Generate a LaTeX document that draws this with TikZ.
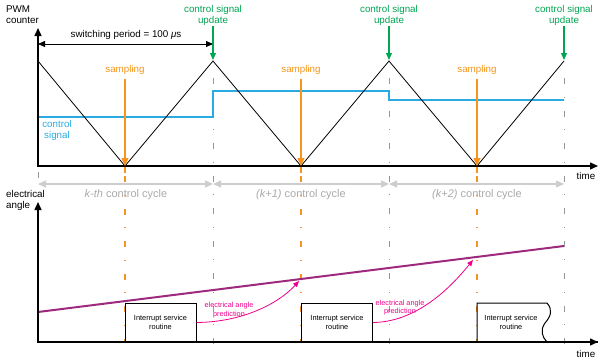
\documentclass[tikz,border=0pt]{standalone}
\usepackage{fontspec}
\setmainfont{Liberation Sans}
\usetikzlibrary{arrows.meta}
\definecolor{pwmblue}{RGB}{41,171,226}
\definecolor{upgreen}{RGB}{0,166,81}
\definecolor{samporange}{RGB}{247,148,29}
\definecolor{anglepurple}{RGB}{158,42,125}
\definecolor{predpink}{RGB}{236,0,140}
\definecolor{cyclegrey}{RGB}{205,205,205}
\definecolor{cycletext}{RGB}{170,170,170}
\definecolor{guidegrey}{RGB}{150,150,150}
\begin{document}
\begin{tikzpicture}[x=1pt,y=-1pt,
  lbl/.style={font=\fontsize{9.8}{11}\selectfont, inner sep=0pt, align=center},
  small/.style={font=\fontsize{7.3}{8.6}\selectfont, inner sep=0pt, align=center},
  axis/.style={line width=1.4pt, black, {Triangle[length=8pt,width=7pt]}-{Triangle[length=8pt,width=7pt]}},
  tri/.style={line width=0.8pt, black},
  ctrl/.style={line width=1.5pt, pwmblue},
  upd/.style={line width=1.2pt, upgreen, -{Triangle[length=7pt,width=6pt]}},
  samp/.style={line width=1.3pt, samporange},
  guide/.style={line width=1pt, guidegrey, dash pattern=on 6pt off 12.75pt on 1pt off 12.75pt},
  sguide/.style={line width=1.3pt, samporange, dash pattern=on 6pt off 12.75pt on 1pt off 12.75pt},
  cyc/.style={line width=1.2pt, cyclegrey, {Triangle[length=8pt,width=7pt]}-{Triangle[length=8pt,width=7pt]}},
  dim/.style={line width=0.8pt, black, {Triangle[length=7pt,width=6pt]}-{Triangle[length=7pt,width=6pt]}},
  angle/.style={line width=2pt, anglepurple},
  pred/.style={line width=0.8pt, predpink, -{Triangle[length=6pt,width=5pt]}},
  isrbox/.style={draw, line width=1pt, fill=white, minimum width=71pt, minimum height=39pt, inner sep=0pt, font=\fontsize{7.4}{9}\selectfont, align=center}
]
\useasboundingbox (0,0) rectangle (598,359);

% ---------- coordinates ----------
\coordinate (O1) at (38,166); \coordinate (Y1) at (38,28); \coordinate (X1) at (598,166);
\coordinate (O2) at (38,342); \coordinate (Y2) at (38,202); \coordinate (X2) at (598,342);
\coordinate (P0) at (38,61); \coordinate (P1) at (213,61); \coordinate (P2) at (389,61); \coordinate (P3) at (564,61);
\coordinate (T1) at (125,166); \coordinate (T2) at (301,166); \coordinate (T3) at (477,166);

% ---------- guides (behind) ----------
\foreach \x in {213,389,564} \draw[guide] (\x,78) -- (\x,345);
\draw[guide] (38,172) -- (38,182);
\foreach \x in {125,301,477} {
  \draw[samp] (\x,166) -- (\x,173);
  \draw[sguide] (\x,176) -- (\x,342);
}

% ---------- top panel ----------
\draw[ctrl] (38,117) -- (213,117) -- (213,91) -- (389,91) -- (389,100) -- (564,100);
\draw[tri] (P0) -- (T1) -- (P1) -- (T2) -- (P2) -- (T3) -- (P3);
\draw[axis] (Y1) -- (O1) -- (X1);

\node[lbl, align=left, anchor=west] (pwm) at (6,15) {PWM\\counter};
\node[lbl] (tlbl1) at (586,176) {time};
\node[lbl, pwmblue] (cslbl) at (57,130) {control\\signal};

\coordinate (D0) at (38,44); \coordinate (D1) at (213,44);
\draw[dim] (D0) -- (D1);
\node[lbl] (period) at (126,35) {switching period = 100 \textit{μ}s};

\foreach \x/\n in {213/a,389/b,564/c} {
  \node[lbl, upgreen] (upd\n) at (\x,15.5) {control signal\\update};
  \draw[upd] (\x,26) -- (\x,60);
}
\foreach \x/\n in {125/a,301/b,477/c} {
  \node[lbl, samporange] (smp\n) at (\x,70) {sampling};
  \draw[samp, -{Triangle[length=8pt,width=7pt]}] (\x,79) -- (\x,166);
}

% ---------- cycles ----------
\draw[cyc] (38,184) -- (213,184);
\draw[cyc] (213,184) -- (389,184);
\draw[cyc] (389,184) -- (564,184);
\node[lbl, cycletext, font=\fontsize{11}{13}\selectfont] (cyc1) at (126,195) {\textit{k-th} control cycle};
\node[lbl, cycletext, font=\fontsize{11}{13}\selectfont] (cyc2) at (301,195) {\textit{(k+1)} control cycle};
\node[lbl, cycletext, font=\fontsize{11}{13}\selectfont] (cyc3) at (477,195) {\textit{(k+2)} control cycle};

% ---------- bottom panel ----------
\node[lbl, align=left, anchor=west] (ealbl) at (6,200.5) {electrical\\angle};
\node[lbl] (tlbl2) at (586,354) {time};
\draw[angle] (38,312) -- (564,246);
\draw[axis] (Y2) -- (O2) -- (X2);

\node[isrbox] (isr1) at (160.5,322.5) {Interrupt service\\routine};
\node[isrbox] (isr2) at (337,322.5) {Interrupt service\\routine};
\draw[line width=1pt, fill=white] (477,342) -- (477,303) -- (547,303)
   .. controls (553,310) and (551,316) .. (545,323)
   .. controls (540,330) and (542,337) .. (547,342) -- cycle;
\node[small, font=\fontsize{7.4}{9}\selectfont] (isr3) at (511,322.5) {Interrupt service\\routine};
\draw[line width=1.4pt] (O2) -- (X2);

\coordinate (A1) at (299,281);
\coordinate (A2) at (473,260);
\draw[pred] (isr1.east) .. controls (245,322) and (280,302) .. (A1);
\draw[pred] (isr2.east) .. controls (420,322) and (455,282) .. (A2);
\node[small, predpink] (pr1) at (229,310) {electrical angle\\prediction};
\node[small, predpink] (pr2) at (400,307.5) {electrical angle\\prediction};
\end{tikzpicture}
\end{document}
